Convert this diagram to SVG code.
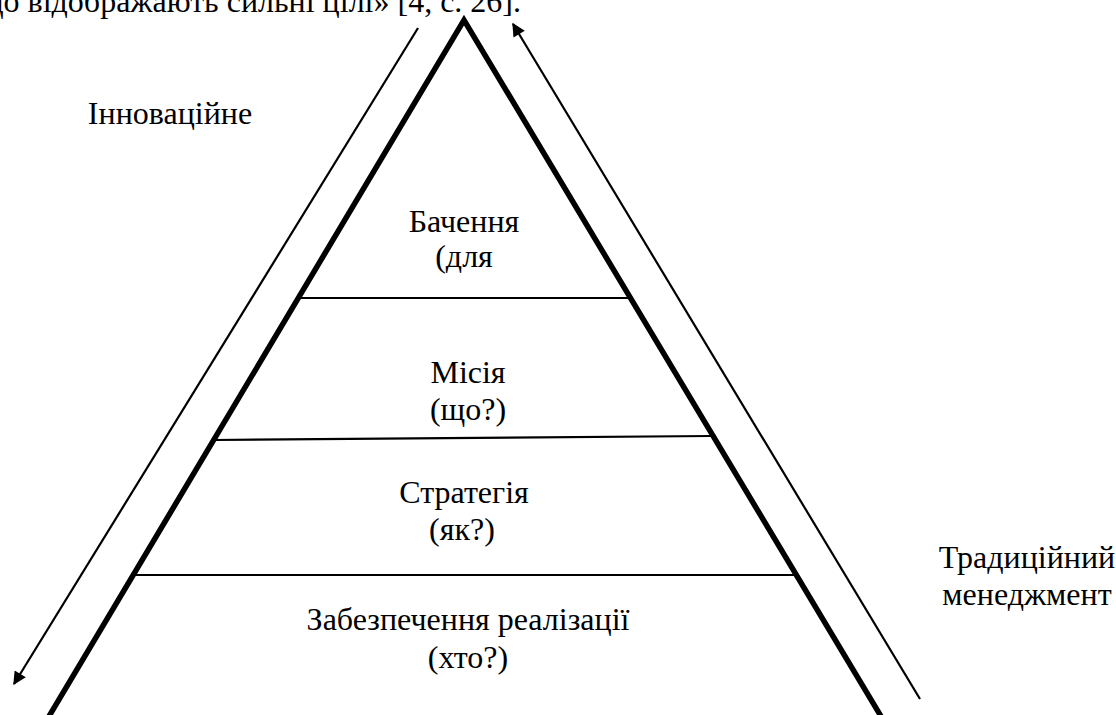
<svg xmlns="http://www.w3.org/2000/svg" width="1116" height="715" viewBox="0 0 1116 715">
<style>
.t{font-family:'Liberation Serif','Times New Roman',Tinos,'DejaVu Serif',serif;font-size:32px;fill:#000}
.c{text-anchor:middle}
.side{stroke:#000;stroke-width:5.5;fill:none;stroke-linecap:butt}
.div{stroke:#000;stroke-width:2.2;fill:none}
.arr{stroke:#000;stroke-width:2.2;fill:none}
</style>
<defs>
<marker id="ah" viewBox="0 0 10 10" refX="9" refY="5" markerWidth="7" markerHeight="6" markerUnits="strokeWidth" orient="auto">
<path d="M0,0 L10,5 L0,10 z" fill="#000"/>
</marker>
</defs>
<rect width="1116" height="715" fill="#fff"/>
<text id="caption" class="t" font-family="Liberation Serif, serif" x="521" y="12" text-anchor="end">що відображають сильні цілі» [4, с. 26].</text>
<g id="pyramid">
<path class="side" d="M48,718 L464,20 L882,718"/>
</g>
<g id="dividers">
<line class="div" x1="300" y1="298" x2="629" y2="298"/>
<line class="div" x1="214" y1="440" x2="711" y2="436"/>
<line class="div" x1="135" y1="575" x2="796" y2="575"/>
</g>
<g id="level-vision" class="t" font-family="Liberation Serif, serif">
<text class="c" x="464" y="232">Бачення</text>
<text class="c" x="464" y="267">(для</text>
</g>
<g id="level-mission" class="t" font-family="Liberation Serif, serif">
<text class="c" x="468" y="383">Місія</text>
<text class="c" x="468" y="420">(що?)</text>
</g>
<g id="level-strategy" class="t" font-family="Liberation Serif, serif">
<text class="c" x="464" y="503">Стратегія</text>
<text class="c" x="462" y="540">(як?)</text>
</g>
<g id="level-implementation" class="t" font-family="Liberation Serif, serif">
<text class="c" x="468" y="630">Забезпечення реалізації</text>
<text class="c" x="468" y="668">(хто?)</text>
</g>
<g id="label-innovative" class="t" font-family="Liberation Serif, serif">
<text class="c" x="170" y="124">Інноваційне</text>
</g>
<g id="label-traditional" class="t" font-family="Liberation Serif, serif">
<text class="c" x="1027" y="568">Традиційний</text>
<text class="c" x="1027" y="605">менеджмент</text>
</g>
<g id="connectors">
<line class="arr" x1="418" y1="28" x2="14" y2="684" marker-end="url(#ah)"/>
<line class="arr" x1="920" y1="699" x2="513" y2="24" marker-end="url(#ah)"/>
</g>
</svg>
